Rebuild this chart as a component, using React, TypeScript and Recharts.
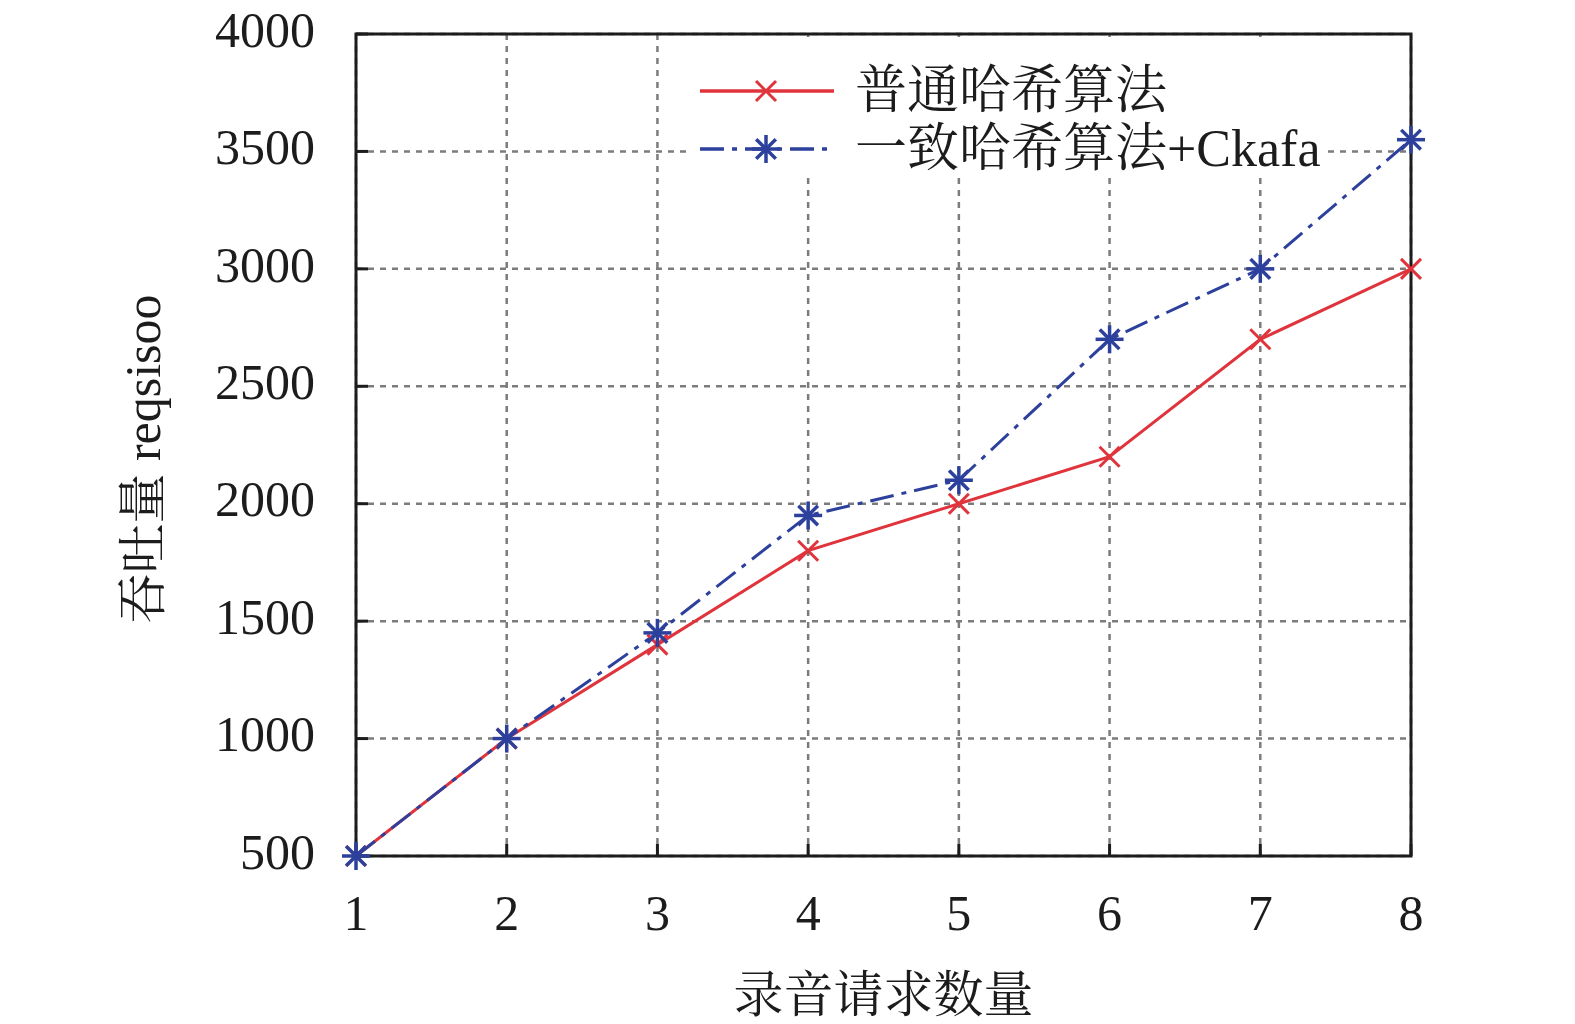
import { LineChart, Line, XAxis, YAxis, CartesianGrid, ReferenceArea } from 'recharts';

// 录音请求数量 -> 吞吐量
const requests = [1, 2, 3, 4, 5, 6, 7, 8];
const hashPlain = [500, 1000, 1400, 1800, 2000, 2200, 2700, 3000];
const hashConsistent = [500, 1000, 1450, 1950, 2100, 2700, 3000, 3550];
const yTicks = [500, 1000, 1500, 2000, 2500, 3000, 3500, 4000];

const seriesNames = ['普通哈希算法', '一致哈希算法+Ckafa'];

const RED = '#e0343c';
const BLUE = '#2c409c';
const INK = '#1c1c1c';
const FONT = "'Liberation Serif', 'Noto Serif CJK SC', 'Noto Sans CJK SC', serif";
const BLUE_DASH = '24 8 5 8';

const data = requests.map((n, i) => ({
    n,
    plain: hashPlain[i],
    consistent: hashConsistent[i],
}));

function Cross({ cx, cy }: { cx: number; cy: number }) {
    const r = 10;
    return (
        <g stroke={RED} strokeWidth={3}>
            <line x1={cx - r} y1={cy - r} x2={cx + r} y2={cy + r} />
            <line x1={cx - r} y1={cy + r} x2={cx + r} y2={cy - r} />
        </g>
    );
}

function Star({ cx, cy }: { cx: number; cy: number }) {
    const r = 14;
    const d = r * 0.7;
    return (
        <g stroke={BLUE} strokeWidth={3.5}>
            <line x1={cx - r} y1={cy} x2={cx + r} y2={cy} />
            <line x1={cx} y1={cy - r} x2={cx} y2={cy + r} />
            <line x1={cx - d} y1={cy - d} x2={cx + d} y2={cy + d} />
            <line x1={cx - d} y1={cy + d} x2={cx + d} y2={cy - d} />
        </g>
    );
}

function LegendBox() {
    return (
        <div
            style={{
                position: 'absolute',
                left: 690,
                top: 37,
                width: 636,
                height: 139,
                background: '#fff',
            }}
        >
            <svg width={636} height={139}>
                <line x1={10} y1={54} x2={144} y2={54} stroke={RED} strokeWidth={3.5} />
                <Cross cx={76} cy={54} />
                <line
                    x1={10}
                    y1={112}
                    x2={144}
                    y2={112}
                    stroke={BLUE}
                    strokeWidth={3.5}
                    strokeDasharray={BLUE_DASH}
                />
                <Star cx={76} cy={112} />
                <text x={165} y={71} fontFamily={FONT} fontSize={52} fill={INK}>
                    {seriesNames[0]}
                </text>
                <text x={165} y={129} fontFamily={FONT} fontSize={52} fill={INK}>
                    {seriesNames[1]}
                </text>
            </svg>
        </div>
    );
}

export default function App() {
    const tickStyle = { fontSize: 50, fill: INK, fontFamily: FONT };
    return (
        <div
            style={{
                position: 'relative',
                width: 1575,
                height: 1024,
                overflow: 'hidden',
                background: '#fff',
            }}
        >
            <style>{'html,body{margin:0;padding:0;overflow:hidden;}'}</style>
            <LineChart
                width={1575}
                height={1024}
                data={data}
                margin={{ top: 34, right: 164, bottom: 0, left: 0 }}
            >
                <CartesianGrid stroke="#7c7c7c" strokeWidth={2.5} strokeDasharray="6 6" />
                <XAxis
                    dataKey="n"
                    type="number"
                    domain={[1, 8]}
                    ticks={requests}
                    height={168}
                    axisLine={false}
                    tickSize={-12}
                    tickMargin={50}
                    tickLine={{ stroke: INK, strokeWidth: 3 }}
                    tick={tickStyle}
                    label={{
                        value: '录音请求数量',
                        position: 'insideBottom',
                        offset: 12,
                        style: { fontSize: 50, fill: INK, fontFamily: FONT },
                    }}
                />
                <XAxis
                    xAxisId="top"
                    orientation="top"
                    type="number"
                    domain={[1, 8]}
                    ticks={requests}
                    height={0}
                    axisLine={false}
                    tick={false}
                    tickSize={-12}
                    tickLine={{ stroke: INK, strokeWidth: 3 }}
                />
                <YAxis
                    type="number"
                    domain={[500, 4000]}
                    ticks={yTicks}
                    width={356}
                    axisLine={false}
                    tickSize={-12}
                    tickMargin={53}
                    tickLine={{ stroke: INK, strokeWidth: 3 }}
                    tick={{ ...tickStyle, dy: -5 }}
                    label={{
                        value: '吞吐量 reqsisoo',
                        angle: -90,
                        position: 'insideLeft',
                        offset: 142,
                        dy: 14,
                        style: { fontSize: 50, fill: INK, fontFamily: FONT, textAnchor: 'middle' },
                    }}
                />
                <YAxis
                    yAxisId="right"
                    orientation="right"
                    type="number"
                    domain={[500, 4000]}
                    ticks={yTicks}
                    width={0}
                    axisLine={false}
                    tick={false}
                    tickSize={-12}
                    tickLine={{ stroke: INK, strokeWidth: 3 }}
                />
                <ReferenceArea
                    x1={1}
                    x2={8}
                    y1={500}
                    y2={4000}
                    fill="none"
                    fillOpacity={0}
                    stroke={INK}
                    strokeWidth={3}
                />
                <Line
                    type="linear"
                    dataKey="plain"
                    stroke={RED}
                    strokeWidth={3}
                    dot={(p: any) => <Cross key={`r${p.index}`} cx={p.cx} cy={p.cy} />}
                    activeDot={false}
                    isAnimationActive={false}
                />
                <Line
                    type="linear"
                    dataKey="consistent"
                    stroke={BLUE}
                    strokeWidth={3}
                    strokeDasharray={BLUE_DASH}
                    dot={(p: any) => <Star key={`b${p.index}`} cx={p.cx} cy={p.cy} />}
                    activeDot={false}
                    isAnimationActive={false}
                />
            </LineChart>
            <LegendBox />
        </div>
    );
}
